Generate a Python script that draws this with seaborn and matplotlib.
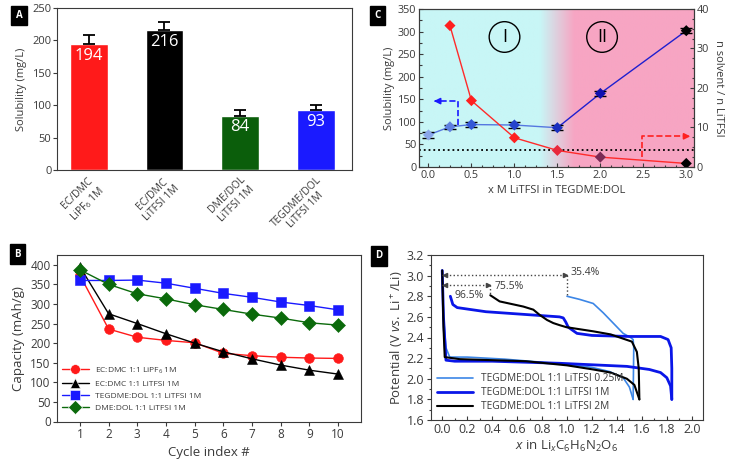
import numpy as np
import pandas as pd
import seaborn as sns
import matplotlib.pyplot as plt
from matplotlib.colors import to_rgb
from matplotlib.ticker import MultipleLocator

sns.set_theme(style='ticks')
plt.rcParams['font.family'] = ['Open Sans', 'DejaVu Sans']
plt.rcParams['mathtext.fontset'] = 'custom'
plt.rcParams['mathtext.rm'] = 'Open Sans'
plt.rcParams['mathtext.it'] = 'Open Sans:italic'
plt.rcParams['text.color'] = '#3a3a3a'
plt.rcParams['axes.labelcolor'] = '#3a3a3a'
plt.rcParams['xtick.color'] = '#3a3a3a'
plt.rcParams['ytick.color'] = '#3a3a3a'
plt.rcParams['axes.edgecolor'] = '#3a3a3a'

### data

# A - solubility per electrolyte
electrolytes = ['EC/DMC\nLiPF$_6$ 1M', 'EC/DMC\nLiTFSI 1M', 'DME/DOL\nLiTFSI 1M', 'TEGDME/DOL\nLiTFSI 1M']
solubility = [194, 216, 84, 93]
solubility_err = [14, 13, 8, 8]
bar_colors = ['#ff1a1a', '#000000', '#0b5e0b', '#1a1aff']

# B - capacity vs cycle
cycles = [1, 2, 3, 4, 5, 6, 7, 8, 9, 10]
cap_ecdmc_lipf6 = [373, 236, 215, 207, 201, 174, 168, 164, 162, 161]
cap_ecdmc_litfsi = [395, 275, 250, 224, 200, 178, 160, 144, 131, 121]
cap_tegdme_dol = [360, 360, 361, 353, 340, 327, 317, 305, 296, 285]
cap_dme_dol = [387, 350, 326, 313, 298, 286, 274, 264, 252, 246]
b_names = ['EC:DMC 1:1 LiPF$_6$ 1M', 'EC:DMC 1:1 LiTFSI 1M', 'TEGDME:DOL 1:1 LiTFSI 1M', 'DME:DOL 1:1 LiTFSI 1M']
b_colors = ['#ff1a1a', '#000000', '#1a1aff', '#0b6a0b']
b_markers = ['o', '^', 's', 'D']

# C - solubility and solvent ratio vs LiTFSI concentration
conc = [0.0, 0.25, 0.5, 1.0, 1.5, 2.0, 3.0]
sol_conc = [71, 89, 94, 93, 87, 163, 302]
sol_conc_err = [6, 5, 6, 6, 6, 6, 6]
sol_colors = ['#8aa6ea', '#5f80e0', '#3558d6', '#2443cc', '#1a30c0', '#1010b0', '#000000']
ratio_conc = [0.25, 0.5, 1.0, 1.5, 2.0, 3.0]
n_ratio = [35.8, 16.8, 7.4, 4.2, 2.5, 0.9]
ratio_colors = ['#ff2020', '#ff2020', '#ff2020', '#e8283c', '#7a2a55', '#000000']
threshold_sol = 37

# D - potential profiles
d_names = ['TEGDME:DOL 1:1 LiTFSI 0.25M', 'TEGDME:DOL 1:1 LiTFSI 1M', 'TEGDME:DOL 1:1 LiTFSI 2M']
dis_025_x = [0.0, 0.01, 0.03, 0.06, 0.2, 0.5, 0.8, 1.0, 1.2, 1.34, 1.45, 1.5, 1.53]
dis_025_v = [3.05, 2.6, 2.3, 2.21, 2.21, 2.19, 2.16, 2.14, 2.11, 2.07, 2.01, 1.92, 1.8]
chg_025_x = [1.53, 1.535, 1.53, 1.51, 1.45, 1.37, 1.29, 1.21, 1.1, 1.0]
chg_025_v = [1.8, 2.3, 2.38, 2.4, 2.44, 2.54, 2.64, 2.73, 2.77, 2.8]
dis_1_x = [0.0, 0.01, 0.03, 0.1, 0.4, 0.94, 1.48, 1.66, 1.75, 1.8, 1.83, 1.84]
dis_1_v = [3.05, 2.6, 2.18, 2.17, 2.17, 2.15, 2.12, 2.09, 2.06, 2.01, 1.93, 1.8]
chg_1_x = [1.84, 1.84, 1.835, 1.81, 1.75, 1.5, 1.2, 1.08, 1.01, 0.99, 0.97, 0.94, 0.35, 0.12, 0.085, 0.065]
chg_1_v = [1.8, 2.1, 2.3, 2.38, 2.41, 2.41, 2.42, 2.44, 2.5, 2.55, 2.59, 2.6, 2.65, 2.69, 2.72, 2.8]
dis_2_x = [0.0, 0.01, 0.02, 0.14, 0.67, 1.0, 1.21, 1.35, 1.48, 1.54, 1.56, 1.58]
dis_2_v = [3.05, 2.5, 2.21, 2.19, 2.17, 2.13, 2.09, 2.06, 2.0, 1.94, 1.87, 1.8]
chg_2_x = [1.58, 1.575, 1.56, 1.52, 1.35, 1.21, 0.995, 0.94, 0.89, 0.84, 0.78, 0.73, 0.65, 0.46, 0.385]
chg_2_v = [1.8, 2.1, 2.26, 2.36, 2.43, 2.46, 2.5, 2.52, 2.54, 2.57, 2.62, 2.67, 2.70, 2.75, 2.81]
d_colors = ['#3c86e6', '#0a16e8', '#000000']
d_widths = [1.2, 2.0, 1.5]


fig = plt.figure(figsize=(7.31, 4.59), dpi=100)
ax_a = fig.add_axes([57/731, 1-170/459, 295/731, 162/459])
ax_c = fig.add_axes([419/731, 1-167/459, 275/731, 158/459])
ax_b = fig.add_axes([57/731, 1-421.5/459, 304/731, 166.5/459])
ax_d = fig.add_axes([431/731, 1-420/459, 272/731, 165/459])

### A
sns.barplot(x=electrolytes, y=solubility, hue=electrolytes, palette=bar_colors,
            legend=False, width=0.5, saturation=1, ax=ax_a)
ax_a.errorbar(range(len(solubility)), solubility, yerr=[[0]*4, solubility_err],
              fmt='none', ecolor='black', elinewidth=1.3, capsize=4.5, capthick=1.3)
for i, v in enumerate(solubility):
    ax_a.text(i, v - 6, str(v), ha='center', va='top', color='white', fontsize=12)
ax_a.set_ylim(0, 250)
ax_a.set_xlim(-0.42, 3.48)
ax_a.set_yticks(range(0, 251, 50))
ax_a.set_ylabel('Solubility (mg/L)', fontsize=8)
ax_a.tick_params(axis='y', labelsize=8, direction='out', length=3, width=0.8, pad=1)
ax_a.tick_params(axis='x', length=0, pad=3)
for lbl in ax_a.get_xticklabels():
    lbl.set_rotation(45)
    lbl.set_ha('right')
    lbl.set_rotation_mode('anchor')
    lbl.set_fontsize(7.5)
    lbl.set_multialignment('center')
for s in ax_a.spines.values():
    s.set_linewidth(0.8)

### B
df_b = pd.DataFrame({
    'cycle': cycles * 4,
    'capacity': cap_ecdmc_lipf6 + cap_ecdmc_litfsi + cap_tegdme_dol + cap_dme_dol,
    'electrolyte': [n for n in b_names for _ in cycles],
})
sns.lineplot(data=df_b, x='cycle', y='capacity', hue='electrolyte', style='electrolyte',
             hue_order=b_names, style_order=b_names, palette=b_colors,
             markers=b_markers, dashes=False, markersize=7, markeredgewidth=0.4,
             linewidth=1, ax=ax_b)
for line, c in zip(ax_b.lines, b_colors):
    line.set_markeredgecolor(c)
ax_b.set_xlim(0.2, 10.8)
ax_b.set_ylim(0, 425)
ax_b.set_xticks(cycles)
ax_b.set_yticks(range(0, 401, 50))
ax_b.set_xlabel('Cycle index #', fontsize=9.5)
ax_b.set_ylabel('Capacity (mAh/g)', fontsize=9.5)
ax_b.tick_params(labelsize=8.5, direction='out', length=3, width=0.8, pad=1.5)
leg = ax_b.legend(loc='lower left', fontsize=6.0, frameon=False, handlelength=3.2,
                  labelspacing=0.5, borderaxespad=0.2, bbox_to_anchor=(0.0, 0.03))
for h in leg.legend_handles:
    h.set_markeredgewidth(0.4)
for s in ax_b.spines.values():
    s.set_linewidth(0.8)

### C
xl_c = (-0.11, 3.09)
cyan = np.array(to_rgb('#c8f6f6'))
pink = np.array(to_rgb('#f7a5c3'))
xs = np.linspace(xl_c[0], xl_c[1], 500)
t = np.clip((xs - 1.3) / 0.4, 0, 1)
grad = (1 - t)[:, None] * cyan + t[:, None] * pink
ax_c.imshow(grad[None, :, :], extent=[xl_c[0], xl_c[1], 0, 350], aspect='auto', zorder=0)

ax_c.axhline(threshold_sol, ls=':', color='black', lw=1.3, zorder=2)
sns.lineplot(x=conc[:5], y=sol_conc[:5], color='#5577e0', lw=1, ax=ax_c, zorder=3)
sns.lineplot(x=conc[4:], y=sol_conc[4:], color='#1f1fcf', lw=1, ax=ax_c, zorder=3)
ax_c.errorbar(conc, sol_conc, yerr=sol_conc_err, fmt='none', ecolor='black',
              elinewidth=1, capsize=4, capthick=1, zorder=4)
sns.scatterplot(x=conc, y=sol_conc, hue=[str(c) for c in conc], palette=sol_colors,
                marker='D', s=32, edgecolor='none', legend=False, ax=ax_c, zorder=5)

# guide arrows
ax_c.plot([0.34, 0.34, 0.12], [92, 146, 146], ls='--', color='#1a1aff', lw=1.2, zorder=3)
ax_c.annotate('', xy=(0.03, 146), xytext=(0.13, 146),
              arrowprops=dict(arrowstyle='-|>', color='#1a1aff', lw=1.2, mutation_scale=9))
ax_c.plot([2.48, 2.48, 2.98], [22, 68, 68], ls='--', color='#ff2020', lw=1.2, zorder=3)
ax_c.annotate('', xy=(3.08, 68), xytext=(2.97, 68), annotation_clip=False,
              arrowprops=dict(arrowstyle='-|>', color='#ff2020', lw=1.2, mutation_scale=9))
for x0, lab in [(0.885, 'I'), (2.02, 'II')]:
    ax_c.text(x0, 288, lab, ha='center', va='center', fontsize=13, color='black',
              bbox=dict(boxstyle='circle,pad=0.35', fc='none', ec='black', lw=1))

ax_c.set_xlim(*xl_c)
ax_c.set_ylim(0, 350)
ax_c.set_yticks(range(0, 351, 50))
ax_c.set_xticks([0, 0.5, 1.0, 1.5, 2.0, 2.5, 3.0])
ax_c.set_xticklabels(['0.0', '0.5', '1.0', '1.5', '2.0', '2.5', '3.0'])
ax_c.xaxis.set_minor_locator(MultipleLocator(0.125))
ax_c.yaxis.set_minor_locator(MultipleLocator(25))
ax_c.set_xlabel('x M LiTFSI in TEGDME:DOL', fontsize=8, labelpad=3)
ax_c.set_ylabel('Solubility (mg/L)', fontsize=8, labelpad=2)
ax_c.tick_params(which='both', labelsize=7.8, direction='in', width=0.8, pad=2)
ax_c.tick_params(which='major', length=3)
ax_c.tick_params(which='minor', length=1.8)

ax_c2 = ax_c.twinx()
sns.lineplot(x=ratio_conc, y=n_ratio, color='#ff2a2a', lw=1, ax=ax_c2, zorder=3)
sns.scatterplot(x=ratio_conc, y=n_ratio, hue=[str(c) for c in ratio_conc], palette=ratio_colors,
                marker='D', s=32, edgecolor='none', legend=False, ax=ax_c2, zorder=5)
ax_c2.set_ylim(0, 40)
ax_c2.set_xlim(*xl_c)
ax_c2.set_yticks(range(0, 41, 10))
ax_c2.yaxis.set_minor_locator(MultipleLocator(2.5))
ax_c2.set_ylabel('n solvent / n LiTFSI', fontsize=8, rotation=270, va='bottom', labelpad=3)
ax_c2.tick_params(which='both', labelsize=7.8, direction='in', width=0.8, pad=2)
ax_c2.tick_params(which='major', length=3)
ax_c2.tick_params(which='minor', length=1.8)
for s in list(ax_c.spines.values()) + list(ax_c2.spines.values()):
    s.set_linewidth(0.8)

### D
d_curves = [(dis_025_x, dis_025_v, chg_025_x, chg_025_v),
            (dis_1_x, dis_1_v, chg_1_x, chg_1_v),
            (dis_2_x, dis_2_v, chg_2_x, chg_2_v)]
for (dx, dv, cx, cv), name, col, lw in zip(d_curves, d_names, d_colors, d_widths):
    sns.lineplot(x=dx, y=dv, sort=False, estimator=None, color=col, lw=lw, ax=ax_d, label=name)
    sns.lineplot(x=cx, y=cv, sort=False, estimator=None, color=col, lw=lw, ax=ax_d)

# coulombic efficiency markers
ax_d.plot([0.0, 1.0, 1.0], [3.01, 3.01, 2.8], ls=':', color='#444444', lw=1)
ax_d.plot([0.0, 0.385, 0.385], [2.91, 2.91, 2.81], ls=':', color='#444444', lw=1)
ax_d.plot([0.02], [3.01], marker='<', ms=3, color='#444444')
ax_d.plot([0.98], [3.01], marker='>', ms=3, color='#444444')
ax_d.plot([0.02], [2.91], marker='<', ms=3, color='#444444')
ax_d.plot([0.365], [2.91], marker='>', ms=3, color='#444444')
ax_d.text(1.03, 3.03, '35.4%', fontsize=7.5, va='center')
ax_d.text(0.42, 2.89, '75.5%', fontsize=7.5, va='center')
ax_d.text(0.1, 2.805, '96.5%', fontsize=7.5, va='center')

ax_d.set_xlim(-0.09, 2.09)
ax_d.set_ylim(1.6, 3.2)
ax_d.set_xticks(np.arange(0, 2.01, 0.2))
ax_d.set_xticklabels([f'{v:.1f}' for v in np.arange(0, 2.01, 0.2)])
ax_d.set_yticks(np.arange(1.6, 3.21, 0.2))
ax_d.set_yticklabels([f'{v:.1f}' for v in np.arange(1.6, 3.21, 0.2)])
ax_d.xaxis.set_minor_locator(MultipleLocator(0.1))
ax_d.yaxis.set_minor_locator(MultipleLocator(0.1))
ax_d.set_xlabel('$\\mathit{x}$ in Li$_x$C$_6$H$_6$N$_2$O$_6$', fontsize=9.5, labelpad=2)
ax_d.set_ylabel('Potential (V $\\mathit{vs.}$ Li$^+$/Li)', fontsize=9.5, labelpad=2)
ax_d.tick_params(which='both', labelsize=9, width=0.8, pad=2)
ax_d.tick_params(axis='x', which='both', direction='in')
ax_d.tick_params(axis='y', which='both', direction='out')
ax_d.tick_params(which='major', length=3)
ax_d.tick_params(which='minor', length=1.8)
ax_d.legend(loc='lower left', fontsize=7.3, frameon=False, handlelength=3.5,
            labelspacing=0.3, borderaxespad=0.2, bbox_to_anchor=(0.0, 0.01))
for s in ax_d.spines.values():
    s.set_linewidth(0.8)

# panel letters
for x, y, lab in [(0.026, 0.966, 'A'), (0.517, 0.966, 'C'), (0.024, 0.446, 'B'), (0.518, 0.443, 'D')]:
    fig.text(x, y, lab, ha='center', va='center', color='white', fontsize=7, fontweight='bold',
             bbox=dict(boxstyle='square,pad=0.45', fc='black', ec='black'))

fig.savefig('out.png', dpi=100)
